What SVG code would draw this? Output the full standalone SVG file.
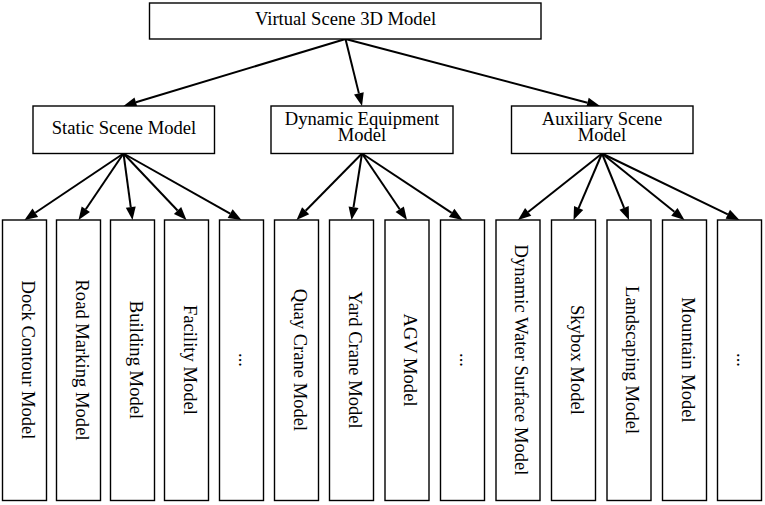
<svg xmlns="http://www.w3.org/2000/svg" width="765" height="505" viewBox="0 0 765 505">
<defs>
<style>
.box{fill:#fff;stroke:#000;stroke-width:1.4}
.t{font-family:"Liberation Serif","Times New Roman",serif;font-size:18.6px;fill:#000;text-anchor:middle}
.e{fill:none;stroke:#000;stroke-width:2}
</style>
<marker id="ah" markerUnits="userSpaceOnUse" viewBox="0 -6 14 12" refX="0" refY="0" markerWidth="14" markerHeight="12" orient="auto" overflow="visible">
<path d="M0,-5 L13,0 L0,5 Z" fill="#000"/>
</marker>
</defs>
<rect width="765" height="505" fill="#fff"/>
<g id="connectors">
<path class="e" marker-end="url(#ah)" d="M345.5,39 L135.94,102.24"/>
<path class="e" marker-end="url(#ah)" d="M345.5,39 L358.89,93.38"/>
<path class="e" marker-end="url(#ah)" d="M345.5,39 L587.43,102.69"/>
<path class="e" marker-end="url(#ah)" d="M123.5,153.5 L35.29,212.75"/>
<path class="e" marker-end="url(#ah)" d="M123.5,153.5 L85.79,209.23"/>
<path class="e" marker-end="url(#ah)" d="M123.5,153.5 L130.76,207.12"/>
<path class="e" marker-end="url(#ah)" d="M123.5,153.5 L177.56,210.56"/>
<path class="e" marker-end="url(#ah)" d="M123.5,153.5 L230.17,213.62"/>
<path class="e" marker-end="url(#ah)" d="M362,153.5 L305.63,210.73"/>
<path class="e" marker-end="url(#ah)" d="M362,153.5 L353.53,207.16"/>
<path class="e" marker-end="url(#ah)" d="M362,153.5 L399.71,209.23"/>
<path class="e" marker-end="url(#ah)" d="M362,153.5 L451.66,212.83"/>
<path class="e" marker-end="url(#ah)" d="M602,153.5 L528.19,211.93"/>
<path class="e" marker-end="url(#ah)" d="M602,153.5 L578.62,208.04"/>
<path class="e" marker-end="url(#ah)" d="M602,153.5 L624.11,207.96"/>
<path class="e" marker-end="url(#ah)" d="M602,153.5 L674.38,211.84"/>
<path class="e" marker-end="url(#ah)" d="M602,153.5 L727.79,214.34"/>
</g>
<g id="root"><rect class="box" x="149.5" y="3" width="391.5" height="36"/><text class="t" x="345.5" y="25">Virtual Scene 3D Model</text></g>
<g id="static"><rect class="box" x="33" y="106" width="181.5" height="47.5"/><text class="t" x="124" y="134.3">Static Scene Model</text></g>
<g id="dynamic"><rect class="box" x="271" y="106" width="182" height="47.5"/><text class="t" x="362" y="124.5">Dynamic Equipment</text><text class="t" x="362" y="141">Model</text></g>
<g id="auxiliary"><rect class="box" x="511.5" y="106" width="181.5" height="47.5"/><text class="t" x="602" y="124.5">Auxiliary Scene</text><text class="t" x="602" y="141">Model</text></g>
<g id="dock"><rect class="box" x="2.5" y="220" width="44" height="280.5"/><text class="t" transform="translate(24.5,360) rotate(90)" y="3">Dock Contour Model</text></g>
<g id="road"><rect class="box" x="56.5" y="220" width="44" height="280.5"/><text class="t" transform="translate(78.5,360) rotate(90)" y="3">Road Marking Model</text></g>
<g id="building"><rect class="box" x="110.5" y="220" width="44" height="280.5"/><text class="t" transform="translate(132.5,360) rotate(90)" y="3">Building Model</text></g>
<g id="facility"><rect class="box" x="164.5" y="220" width="44" height="280.5"/><text class="t" transform="translate(186.5,360) rotate(90)" y="3">Facility Model</text></g>
<g id="static-more"><rect class="box" x="219.5" y="220" width="44" height="280.5"/><text class="t" transform="translate(241.5,360) rotate(90)" y="3">...</text></g>
<g id="quay"><rect class="box" x="274.5" y="220" width="44" height="280.5"/><text class="t" transform="translate(296.5,360) rotate(90)" y="3">Quay Crane Model</text></g>
<g id="yard"><rect class="box" x="329.5" y="220" width="44" height="280.5"/><text class="t" transform="translate(351.5,360) rotate(90)" y="3">Yard Crane Model</text></g>
<g id="agv"><rect class="box" x="385" y="220" width="44" height="280.5"/><text class="t" transform="translate(407,360) rotate(90)" y="3">AGV Model</text></g>
<g id="dynamic-more"><rect class="box" x="440.5" y="220" width="44" height="280.5"/><text class="t" transform="translate(462.5,360) rotate(90)" y="3">...</text></g>
<g id="water"><rect class="box" x="496" y="220" width="44" height="280.5"/><text class="t" transform="translate(518,360) rotate(90)" y="3">Dynamic Water Surface Model</text></g>
<g id="skybox"><rect class="box" x="551.5" y="220" width="44" height="280.5"/><text class="t" transform="translate(573.5,360) rotate(90)" y="3">Skybox Model</text></g>
<g id="landscaping"><rect class="box" x="607" y="220" width="44" height="280.5"/><text class="t" transform="translate(629,360) rotate(90)" y="3">Landscaping Model</text></g>
<g id="mountain"><rect class="box" x="662.5" y="220" width="44" height="280.5"/><text class="t" transform="translate(684.5,360) rotate(90)" y="3">Mountain Model</text></g>
<g id="aux-more"><rect class="box" x="717.5" y="220" width="44" height="280.5"/><text class="t" transform="translate(739.5,360) rotate(90)" y="3">...</text></g>
</svg>
